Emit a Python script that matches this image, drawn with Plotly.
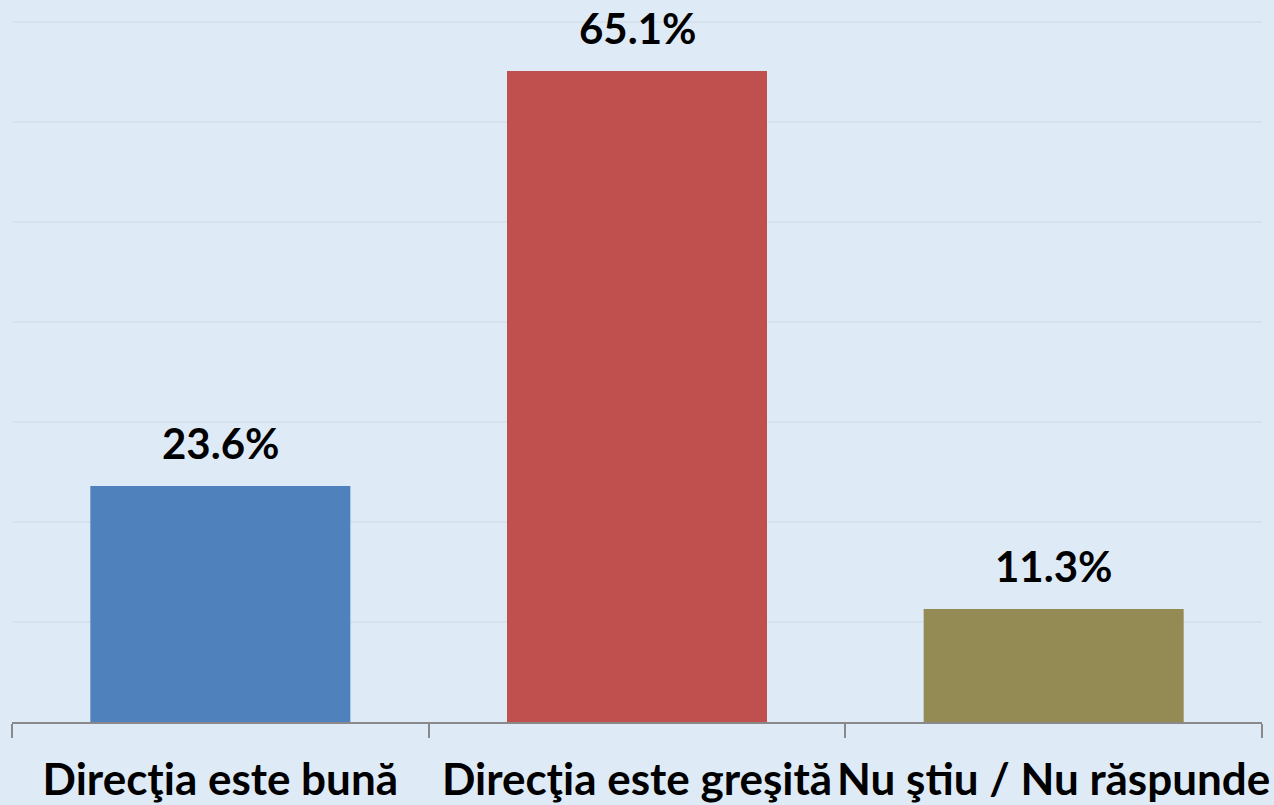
import plotly.graph_objects as go

categories = ["Direcţia este bună", "Direcţia este greşită", "Nu ştiu / Nu răspunde"]
values = [23.6, 65.1, 11.3]
value_labels = ["23.6%", "65.1%", "11.3%"]
colors = ["#4F81BD", "#C0504D", "#948A54"]

FONT = "Lato"
fig = go.Figure(go.Bar(x=categories, y=values, marker=dict(color=colors, line=dict(width=0)),
                       hoverinfo="skip"))

for c, v, t in zip(categories, values, value_labels):
    fig.add_annotation(x=c, y=v, text=t, showarrow=False, yanchor="bottom", yshift=16,
                       font=dict(family=FONT, size=42, color="#000000", weight="bold"))

fig.update_layout(
    width=1274, height=805,
    margin=dict(l=12, r=12, t=0, b=83, autoexpand=False),
    paper_bgcolor="#DEEAF6", plot_bgcolor="#DEEAF6",
    bargap=0.376, showlegend=False,
    font=dict(family=FONT),
)
fig.update_xaxes(showline=True, linecolor="#898989", linewidth=2,
                 ticks="outside", tickson="boundaries", ticklen=14, tickcolor="#898989", tickwidth=2,
                 tickfont=dict(family=FONT, size=44, color="#000000", weight="bold"),
                 tickangle=0, automargin=False, ticklabelstandoff=18,
                 showgrid=False, zeroline=False)
fig.update_yaxes(range=[0, 72.2], dtick=10, showgrid=True, gridcolor="#D6E2EE", gridwidth=1.5,
                 showticklabels=False, zeroline=False, showline=False, automargin=False)

fig.write_html("out.html", config={"displayModeBar": False},
               post_script="document.body.style.margin='0';document.body.style.background='#DEEAF6';")
